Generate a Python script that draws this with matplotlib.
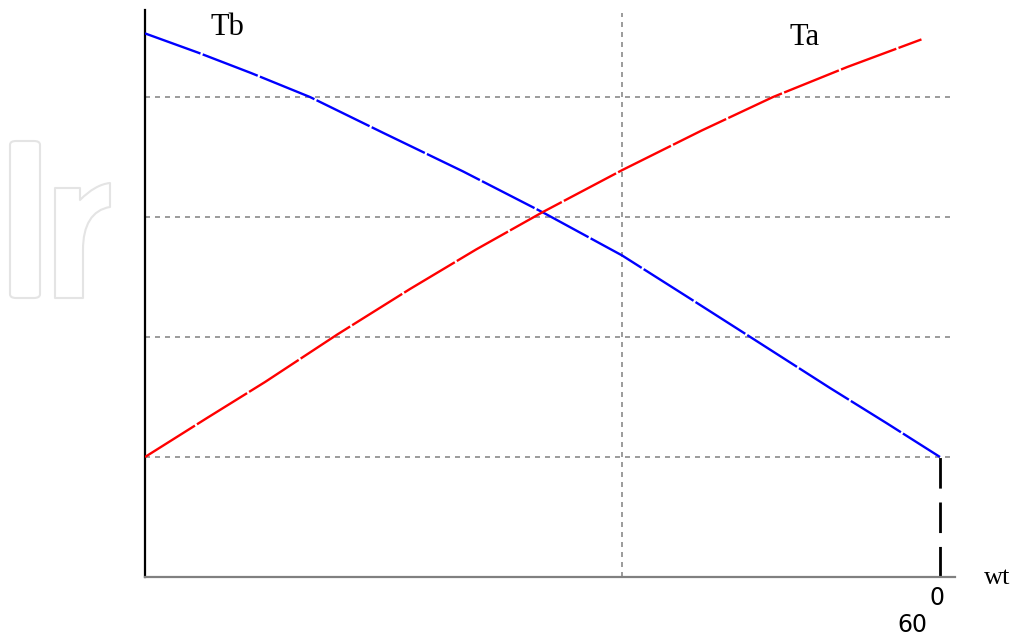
import numpy as np
import matplotlib
matplotlib.use("Agg")
import matplotlib.pyplot as plt
from matplotlib.patches import FancyBboxPatch, PathPatch
from matplotlib.path import Path

# angle wt in degrees, torque in grid units
wt_b = [0, 4, 8, 12.45, 18, 24, 30, 36, 41, 45.4, 51.7, 56, 60]
Tb = [4.53, 4.37, 4.20, 4.00, 3.70, 3.38, 3.04, 2.68, 2.33, 2.02, 1.575, 1.28, 1.0]

wt_a = [0, 4.68, 9.06, 14.5, 20, 25, 30, 36, 42, 47.4, 53, 58.6]
Ta = [1.0, 1.325, 1.625, 2.02, 2.40, 2.73, 3.04, 3.39, 3.72, 4.00, 4.25, 4.48]

grid_levels = [1, 2, 3, 4]
mid_wt = 36
end_wt = 60

W, H = 1016, 637
fig = plt.figure(figsize=(W / 100, H / 100), dpi=100)
ax = fig.add_axes([145 / W, 1 - 577 / H, (955 - 145) / W, (577 - 10) / H])
ax.set_xlim(0, (955 - 145) / 13.25)
ax.set_ylim(0, 567 / 120)

for g in grid_levels:
    ax.axhline(g, color="#8a8a8a", lw=1.2, ls=(0, (3, 3)), zorder=1)
ax.axvline(mid_wt, color="#8a8a8a", lw=1.2, ls=(0, (3, 3)), ymin=0, ymax=0.995, zorder=1)

ax.plot(wt_b, Tb, color="blue", lw=1.7, ls=(0, (25, 1)), zorder=3)
ax.plot(wt_a, Ta, color="red", lw=1.7, ls=(0, (25, 1)), zorder=3)
ax.plot([end_wt, end_wt], [0, Tb[-1]], color="black", lw=2, ls=(0, (11, 5)), zorder=2)

for s in ["top", "right"]:
    ax.spines[s].set_visible(False)
ax.spines["left"].set_color("black")
ax.spines["left"].set_linewidth(1.6)
ax.spines["bottom"].set_color("#808080")
ax.spines["bottom"].set_linewidth(1.6)
ax.set_xticks([])
ax.set_yticks([])

serif = ["Liberation Serif", "DejaVu Serif"]
ax.text(6.19, 4.58, "Tb", family=serif, fontsize=22, ha="center", va="center")
ax.text(49.8, 4.50, "Ta", family=serif, fontsize=22, ha="center", va="center")
fig.text(997 / W, 1 - 578 / H, "wt", family=serif, fontsize=19, ha="center", va="center")
fig.text(937 / W, 1 - 598 / H, "0", fontsize=17, ha="center", va="center")
fig.text(912 / W, 1 - 625 / H, "60", fontsize=17, ha="center", va="center")


# faint watermark on the left
def px(x, y):
    return (x / W, 1 - y / H)


wm = "#e4e4e4"
x0, y0 = px(10, 298)
x1, y1 = px(40, 141)
fig.patches.append(FancyBboxPatch((x0, y0), x1 - x0, y1 - y0,
                                  boxstyle="round,pad=0,rounding_size=0.006",
                                  transform=fig.transFigure, fill=False,
                                  ec=wm, lw=1.5))
verts = [px(55, 298), px(55, 188), px(80, 188), px(80, 200),
         px(90, 190), px(100, 184), px(110, 183),
         px(110, 207),
         px(92, 210), px(83, 225), px(83, 250),
         px(83, 298), px(55, 298)]
codes = [Path.MOVETO, Path.LINETO, Path.LINETO, Path.LINETO,
         Path.CURVE4, Path.CURVE4, Path.CURVE4,
         Path.LINETO,
         Path.CURVE4, Path.CURVE4, Path.CURVE4,
         Path.LINETO, Path.CLOSEPOLY]
fig.patches.append(PathPatch(Path(verts, codes), transform=fig.transFigure,
                             fill=False, ec=wm, lw=1.5, joinstyle="round"))

fig.savefig("out.png", dpi=100)
